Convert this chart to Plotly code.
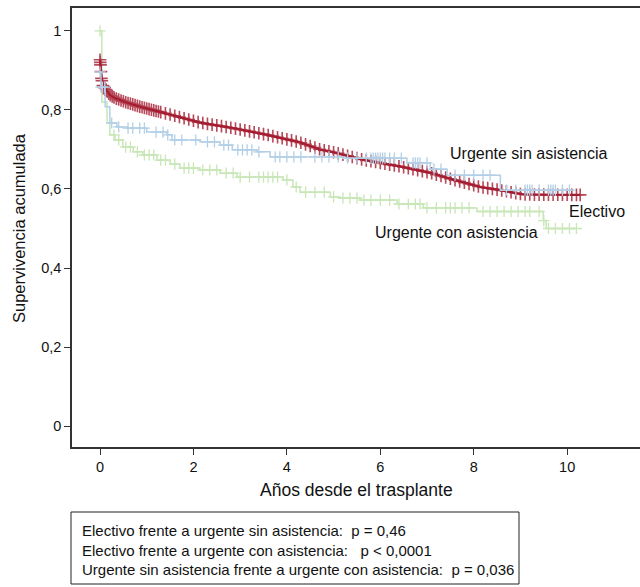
import numpy as np
import plotly.graph_objects as go

# ---------------- data ----------------
electivo_t = [0.0, 0.01, 0.03, 0.06, 0.11, 0.21, 0.32, 0.54, 0.86, 1.28, 1.71, 2.14,
              2.85, 3.58, 4.28, 4.71, 5.07, 5.63, 6.42, 7.07, 7.43, 8.14, 8.57, 9.06, 10.28]
electivo_s = [0.927, 0.914, 0.880, 0.862, 0.855, 0.838, 0.830, 0.820, 0.808, 0.795, 0.782, 0.768,
              0.754, 0.737, 0.718, 0.700, 0.691, 0.674, 0.657, 0.641, 0.628, 0.605, 0.597, 0.586, 0.585]
electivo_cens = [0.0, 0.005, 0.01, 0.02, 0.03, 0.04, 0.06, 0.08, 0.1, 0.13, 0.16, 0.19, 0.22,
                 0.26, 0.3, 0.35, 0.4, 0.45, 0.5, 0.55, 0.6, 0.65, 0.7, 0.75, 0.8, 0.85, 0.9,
                 0.95, 1.0, 1.05, 1.1, 1.15, 1.2, 1.25, 1.3, 1.4, 1.5, 1.6, 1.7, 1.8, 1.9,
                 2.0, 2.1, 2.2, 2.3, 2.4, 2.5, 2.6, 2.7, 2.8, 2.9, 3.0, 3.1, 3.2, 3.3, 3.4,
                 3.5, 3.6, 3.7, 3.8, 3.9, 4.0, 4.1, 4.2, 4.3, 4.4, 4.5, 4.6, 4.7, 4.8, 4.9,
                 5.0, 5.1, 5.2, 5.3, 5.4, 5.5, 5.6, 5.7, 5.8, 5.9, 6.0, 6.1, 6.2, 6.3, 6.4,
                 6.5, 6.6, 6.7, 6.8, 6.9, 7.0, 7.1, 7.2, 7.3, 7.4, 7.5, 7.6, 7.7, 7.8, 7.9,
                 8.0, 8.1, 8.2, 8.3, 8.4, 8.5, 8.6, 8.7, 8.8, 8.9, 9.0, 9.1, 9.2, 9.3, 9.4,
                 9.5, 9.6, 9.7, 9.8, 9.9, 10.0, 10.1, 10.2, 10.28]

sin_t = [0.0, 0.02, 0.11, 0.21, 0.36, 0.58, 1.00, 1.43, 1.54, 2.14, 2.57, 2.83, 3.36, 3.64,
         5.20, 6.57, 7.07, 7.43, 8.57, 10.10]
sin_s = [0.896, 0.858, 0.808, 0.767, 0.757, 0.754, 0.744, 0.737, 0.724, 0.719, 0.711, 0.699,
         0.694, 0.681, 0.678, 0.666, 0.650, 0.635, 0.597, 0.597]
sin_cens = [0.0, 0.02, 0.05, 0.1, 0.25, 0.4, 0.6, 0.7, 0.85, 0.95, 1.2, 1.35, 1.45, 1.6, 1.75,
            2.05, 2.3, 2.45, 2.65, 2.75, 2.95, 3.05, 3.15, 3.25, 3.4, 3.75, 3.85, 4.0, 4.15,
            4.3, 4.6, 4.75, 4.9, 5.1, 5.3, 5.5, 5.7, 5.8, 5.85, 5.9, 5.95, 6.0, 6.05, 6.1,
            6.2, 6.3, 6.45, 6.7, 6.75, 6.8, 6.85, 7.0, 7.15, 7.3, 7.6, 7.8, 8.0, 8.2, 8.35,
            8.7, 8.9, 9.1, 9.15, 9.2, 9.25, 9.4, 9.6, 9.65, 9.7, 9.75, 9.9, 10.05]

con_t = [0.0, 0.04, 0.15, 0.21, 0.32, 0.49, 0.71, 0.92, 1.22, 1.50, 1.71, 2.14, 2.57, 2.93,
         3.92, 4.13, 4.28, 4.93, 5.14, 5.57, 6.36, 6.92, 8.07, 9.49, 9.55, 10.20]
con_s = [1.000, 0.820, 0.767, 0.737, 0.724, 0.706, 0.694, 0.686, 0.673, 0.663, 0.653, 0.648,
         0.640, 0.630, 0.623, 0.605, 0.592, 0.580, 0.577, 0.572, 0.562, 0.552, 0.543, 0.520,
         0.500, 0.500]
con_cens = [0.0, 0.3, 0.4, 0.55, 0.65, 0.8, 0.95, 1.05, 1.15, 1.3, 1.4, 1.6, 1.8, 1.9, 2.0,
            2.2, 2.35, 2.5, 2.7, 2.85, 3.0, 3.2, 3.4, 3.5, 3.6, 3.7, 3.8, 4.0, 4.2, 4.4, 4.6,
            4.8, 5.0, 5.2, 5.35, 5.5, 5.65, 5.8, 6.0, 6.2, 6.4, 6.6, 6.75, 6.85, 7.0, 7.2,
            7.4, 7.5, 7.6, 7.75, 7.9, 8.2, 8.35, 8.5, 8.65, 8.8, 8.95, 9.1, 9.2, 9.4, 9.5,
            9.6, 9.75, 9.9, 10.05, 10.2]

x_ticks = [0, 2, 4, 6, 8, 10]
y_ticks = [0, 0.2, 0.4, 0.6, 0.8, 1]
y_ticklabels = ["0", "0,2", "0,4", "0,6", "0,8", "1"]

labels = ["Electivo", "Urgente sin asistencia", "Urgente con asistencia"]
pvals_text = [
    "Electivo frente a urgente sin asistencia:\u00a0\u00a0p = 0,46",
    "Electivo frente a urgente con asistencia:\u00a0\u00a0\u00a0p &lt; 0,0001",
    "Urgente sin asistencia frente a urgente con asistencia:\u00a0\u00a0p = 0,036",
]

RED = "#a51c30"
BLUE = "#b3cfe6"
GREEN = "#c8e6b6"
FONT = "Liberation Sans, Arial, sans-serif"


def step_lookup(times, surv, t):
    times = np.asarray(times)
    surv = np.asarray(surv)
    idx = np.searchsorted(times, np.asarray(t), side="right") - 1
    idx = np.clip(idx, 0, len(surv) - 1)
    return surv[idx]


fig = go.Figure()

# Urgente con asistencia (green)
fig.add_trace(go.Scatter(x=con_t, y=con_s, mode="lines", line=dict(color=GREEN, width=1.5, shape="hv"),
                         showlegend=False, hoverinfo="skip"))
fig.add_trace(go.Scatter(x=con_cens, y=step_lookup(con_t, con_s, con_cens), mode="markers",
                         marker=dict(symbol="cross-thin", size=8, line=dict(color=GREEN, width=1.3)),
                         showlegend=False, name=labels[2]))

# Electivo (red)
fig.add_trace(go.Scatter(x=electivo_t, y=electivo_s, mode="lines", line=dict(color=RED, width=2.2),
                         showlegend=False, hoverinfo="skip"))
fig.add_trace(go.Scatter(x=electivo_cens, y=np.interp(electivo_cens, electivo_t, electivo_s),
                         mode="markers",
                         marker=dict(symbol="cross-thin", size=9, line=dict(color=RED, width=1.6)),
                         opacity=0.8, showlegend=False, name=labels[0]))

# Urgente sin asistencia (blue)
fig.add_trace(go.Scatter(x=sin_t, y=sin_s, mode="lines", line=dict(color=BLUE, width=1.5, shape="hv"),
                         showlegend=False, hoverinfo="skip"))
fig.add_trace(go.Scatter(x=sin_cens, y=step_lookup(sin_t, sin_s, sin_cens), mode="markers",
                         marker=dict(symbol="cross-thin", size=8, line=dict(color=BLUE, width=1.3)),
                         showlegend=False, name=labels[1]))

# curve labels
fig.add_annotation(x=7.45, y=0.691, text=labels[1], showarrow=False, xanchor="left", yanchor="middle",
                   font=dict(size=16, color="#111"))
fig.add_annotation(x=10.0, y=0.544, text=labels[0], showarrow=False, xanchor="left", yanchor="middle",
                   font=dict(size=16, color="#111"))
fig.add_annotation(x=5.85, y=0.491, text=labels[2], showarrow=False, xanchor="left", yanchor="middle",
                   font=dict(size=16, color="#111"))

# axis titles
fig.add_annotation(xref="paper", yref="paper", x=0.5, y=(447 - 490) / 439, text="Años desde el trasplante",
                   showarrow=False, xanchor="center", yanchor="middle", font=dict(size=17.5, color="#111"))
fig.add_annotation(xref="paper", yref="paper", x=(19 - 72) / 568, y=(447 - 228) / 439,
                   text="Supervivencia acumulada", textangle=-90,
                   showarrow=False, xanchor="center", yanchor="middle", font=dict(size=16.5, color="#111"))

# p-value box
fig.add_shape(type="rect", xref="paper", yref="paper",
              x0=(71 - 72) / 568, x1=(519 - 72) / 568,
              y0=(447 - 512) / 439, y1=(447 - 584) / 439,
              line=dict(color="#222", width=1), fillcolor="rgba(0,0,0,0)")
fig.add_annotation(xref="paper", yref="paper", x=(80 - 72) / 568, y=(447 - 520) / 439,
                   text="<br>".join(pvals_text), showarrow=False, xanchor="left", yanchor="top",
                   align="left", font=dict(size=15, color="#111"))

fig.update_layout(
    width=640, height=587,
    margin=dict(l=72, r=0, t=8, b=140),
    paper_bgcolor="white", plot_bgcolor="white",
    font=dict(family=FONT, size=13, color="#111"),
    xaxis=dict(range=[-0.6, 11.56], tickvals=x_ticks, ticktext=[str(v) for v in x_ticks],
               showgrid=False, zeroline=False, showline=True, linecolor="#333", linewidth=1.5,
               mirror=True, ticks="outside", ticklen=6, tickcolor="#333", tickwidth=1.2,
               tickfont=dict(size=14.5)),
    yaxis=dict(range=[-0.053, 1.058], tickvals=y_ticks, ticktext=y_ticklabels,
               showgrid=False, zeroline=False, showline=True, linecolor="#333", linewidth=1.5,
               ticks="outside", ticklen=6, tickcolor="#333", tickwidth=1.2,
               tickfont=dict(size=14.5)),
)

fig.write_html("out.html")
